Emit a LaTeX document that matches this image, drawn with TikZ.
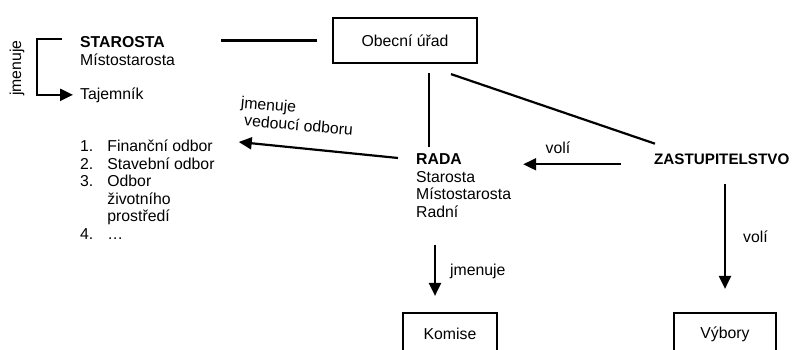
\documentclass[tikz,border=0pt]{standalone}
\usepackage{fontspec}
\setmainfont{Liberation Sans}
\usetikzlibrary{arrows.meta,calc}
\newcommand{\velikost}{\fontsize{15.8}{17.6}\selectfont}
\tikzset{
    popis/.style={font=\velikost, inner sep=0pt},
    ramec/.style={draw, line width=2.2pt, font=\velikost, inner sep=0pt},
    spoj/.style={line width=2.2pt},
    sipka/.style={line width=2.2pt, -{Triangle[length=13pt,width=12pt]}}
}
\begin{document}
\begin{tikzpicture}[x=1pt, y=-1pt]
    \useasboundingbox (0,0) rectangle (794,349);
    \clip (0,0) rectangle (794,349);
    \node[ramec, minimum width=144pt, minimum height=45pt] (urad) at (405,40.5) {Obecní úřad};
    \node[popis, anchor=base west] (starosta) at (80,47.5) {\begin{tabular}[t]{@{}l@{}}\textbf{STAROSTA}\\Místostarosta\end{tabular}};
    \node[popis, anchor=base west] (tajemnik) at (80,99) {Tajemník};
    \node[popis, rotate=90, anchor=base] (jmenujeT) at (21,68) {jmenuje};
    \node[popis, anchor=base west] (odbory) at (80,151.5) {\begin{tabular}[t]{@{}l@{\hspace{14pt}}l@{}}1. & Finanční odbor\\2. & Stavební odbor\\3. & Odbor\\ & životního\\ & prostředí\\4. & …\end{tabular}};
    \node[popis, anchor=base west] (rada) at (416,164.5) {\begin{tabular}[t]{@{}l@{}}\textbf{RADA}\\Starosta\\Místostarosta\\Radní\end{tabular}};
    \node[popis, anchor=base west, font=\fontsize{15.2}{17.6}\selectfont\bfseries] (zastup) at (654,164.5) {ZASTUPITELSTVO};
    \node[ramec, minimum width=94pt, minimum height=42pt] (komise) at (450,334) {Komise};
    \node[ramec, minimum width=102pt, minimum height=42pt] (vybory) at (725,334) {Výbory};
    \node[popis, rotate=-5, align=left] (jmVed) at (297,116) {jmenuje\\\hspace{5pt}vedoucí odboru};
    \node[popis, anchor=base] (voliA) at (558,153) {volí};
    \node[popis, anchor=base west] (jmenujeK) at (450,275) {jmenuje};
    \node[popis, anchor=base west] (voliB) at (743,242) {volí};
    \coordinate (jmHore) at (62,39);
    \coordinate (kOd) at ($(rada.south west)+(19,22)$);
    \draw[sipka, shorten >=7pt] (jmHore) -- ++(-25,0) |- (tajemnik.west);
    \draw[spoj, shorten <=46pt, shorten >=15pt] (starosta.east |- urad.west) -- (urad.west);
    \draw[spoj] ($(urad.south)+(24,9)$) -- ($(urad.south |- rada.north)+(24,-5)$);
    \draw[spoj] ($(urad.south)+(46,10)$) -- ($(zastup.north west)+(1,-10)$);
    \draw[sipka] ($(rada.north west)+(-18,6)$) -- ($(odbory.north east)+(24,3)$);
    \draw[sipka] ($(zastup.west)+(-33,5)$) -- ($(zastup.west -| rada.east)+(12,5)$);
    \draw[sipka] (kOd) -- ($(kOd |- komise.north)+(0,-16)$);
    \draw[sipka, shorten <=19.5pt, shorten >=23pt] (zastup.south -| vybory.north) -- (vybory.north);
\end{tikzpicture}
\end{document}
